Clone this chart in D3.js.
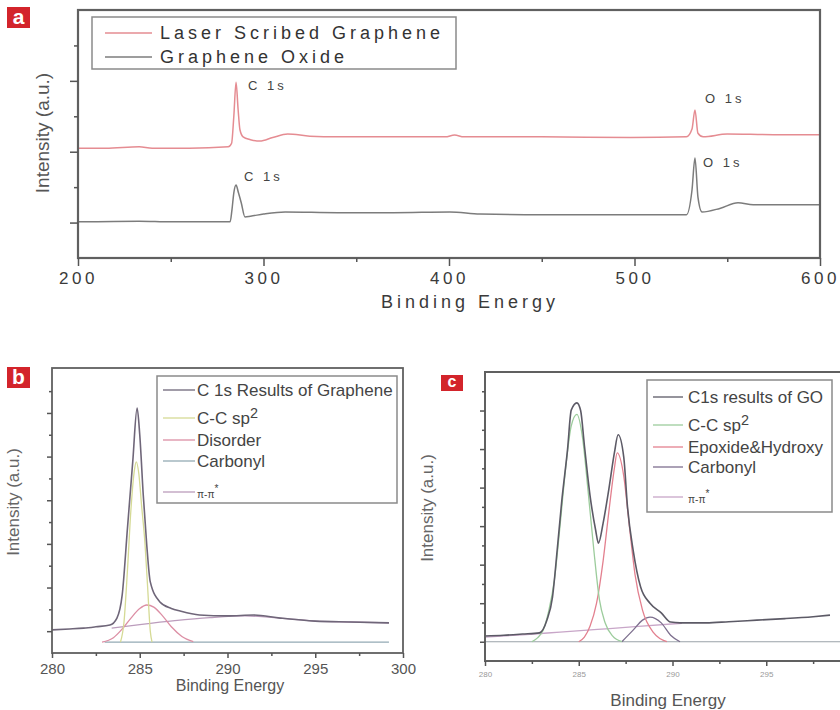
<!DOCTYPE html>
<html>
<head>
<meta charset="utf-8">
<script src="https://cdn.jsdelivr.net/npm/d3@7"></script>
<style>
  body { margin: 0; background: #fff; }
  svg { display: block; font-family: "Liberation Sans", Arial, sans-serif; }
</style>
</head>
<body>
<div id="chart"></div>
<script>
// ---- panel a: survey spectra (binding energy, intensity a.u.)
const lsgSurvey = [[200,2.05],[215,2.05],[233,2.07],[240,2.05],[260,2.05],[281,2.07],[282.8,2.12],[284,2.5],[285.2,2.98],[286.3,2.6],[287.3,2.31],[289,2.21],[293,2.17],[298,2.15],[305,2.2],[313,2.25],[325,2.22],[340,2.21],[370,2.21],[398,2.21],[403,2.235],[408,2.21],[450,2.21],[498,2.2],[528,2.21],[531,2.32],[532.6,2.59],[534.2,2.26],[537,2.21],[550,2.25],[575,2.24],[600,2.24]];
const goSurvey = [[200,1.01],[233,1.02],[250,1.01],[282,1.01],[283,1.18],[284,1.42],[285.2,1.53],[286.5,1.42],[288,1.28],[290,1.08],[293,1.09],[300,1.12],[311.7,1.15],[340,1.14],[370,1.14],[400.5,1.15],[416.7,1.12],[450,1.11],[498,1.11],[528,1.11],[531,1.46],[532.6,1.91],[534.2,1.36],[536.4,1.15],[546,1.2],[555.8,1.28],[564,1.25],[600,1.25]];
const legendA = ["Laser Scribed Graphene", "Graphene Oxide"];
const peakLabelsA = [["C 1s",291.6,2.87],["C 1s",289.5,1.59],["O 1s",538,2.69],["O 1s",536.9,1.78]];
const xTicksA = [200,300,400,500,600];
const xMinorA = [250,350,450,550];
const yTicksA = [1,2,3];
const yMinorA = [1.5,2.5,3.5];

// ---- panel b: C 1s fit of laser scribed graphene
const grTotal = [[280,1.03],[281,1.05],[281.8,1.07],[282.5,1.1],[283.3,1.14],[283.7,1.3],[284.0,1.83],[284.3,3.36],[284.6,4.88],[284.85,6.11],[285.0,5.5],[285.2,4.12],[285.4,2.97],[285.6,2.13],[286.15,1.67],[286.8,1.52],[287.3,1.46],[288.4,1.37],[290,1.35],[291.5,1.37],[293,1.3],[295,1.23],[297,1.21],[299.2,1.19]];
const grSp2 = [[283.9,0.75],[284.1,1.2],[284.3,2.4],[284.5,3.8],[284.7,4.7],[284.8,4.88],[284.95,4.6],[285.1,3.9],[285.3,3.0],[285.45,2.0],[285.6,1.0],[285.7,0.75]];
const grDisorder = [[282.85,0.75],[283.5,0.85],[284,1.05],[284.5,1.3],[285,1.52],[285.4,1.6],[285.8,1.55],[286.3,1.35],[286.8,1.1],[287.4,0.88],[288.05,0.76]];
const grCarbonyl = [[283,0.75],[299.2,0.75]];
const grPi = [[283.4,1.07],[285,1.15],[287,1.24],[289,1.31],[291,1.35],[293,1.3],[295,1.23],[297,1.21],[299.2,1.19]];
const legendB = ["C 1s Results of Graphene", "C-C sp2", "Disorder", "Carbonyl", "π-π*"];
const xTicksB = [280,285,290,295,300];
const xMinorB = [282.5,287.5,292.5,297.5];
const yTicksB = [1,2,3,4,5,6];
const yMinorB = [1.5,2.5,3.5,4.5,5.5,6.5];

// ---- panel c: C 1s fit of graphene oxide
const goTotal = [[280,0.15],[281,0.17],[282,0.2],[282.9,0.23],[283.3,0.56],[283.6,1.16],[283.85,2.38],[284.1,3.68],[284.4,4.98],[284.6,6.01],[284.9,6.2],[285.1,6.0],[285.3,5.1],[285.6,3.8],[285.9,2.9],[286.05,2.56],[286.3,3.08],[286.6,3.94],[286.9,4.9],[287.1,5.37],[287.4,4.79],[287.6,3.5],[287.9,2.38],[288.3,1.42],[288.8,1.0],[289.4,0.75],[289.9,0.51],[290.4,0.49],[291.8,0.49],[293,0.52],[294.5,0.56],[296,0.6],[297.5,0.65],[298.4,0.69]];
const goSp2 = [[282.5,0],[282.8,0.1],[283.1,0.3],[283.4,0.8],[283.7,1.6],[284.0,3.0],[284.3,4.5],[284.6,5.6],[284.9,5.9],[285.2,5.3],[285.5,3.9],[285.8,2.4],[286.1,1.1],[286.4,0.5],[286.8,0.15],[287.3,0]];
const goEpoxide = [[285.0,0],[285.3,0.12],[285.6,0.4],[285.95,1.0],[286.3,2.1],[286.6,3.35],[286.9,4.5],[287.05,4.9],[287.4,4.3],[287.7,3.0],[288.0,1.75],[288.4,0.82],[289.0,0.23],[289.7,0]];
const goCarbonyl = [[287.3,0],[287.9,0.3],[288.4,0.56],[288.8,0.64],[289.4,0.49],[289.9,0.17],[290.4,0]];
const goPi = [[280,0.12],[282,0.18],[284,0.25],[286,0.32],[288,0.39],[290.5,0.48]];
const goBase = [[280,0],[300,0]];
const legendC = ["C1s results of GO", "C-C sp2", "Epoxide&Hydroxy", "Carbonyl", "π-π*"];
const xTicksC = [280,285,290,295];
const xMinorC = [282.5,287.5,292.5,297.5];
const yTicksC = [0,1,2,3,4,5,6];
const yMinorC = [0.5,1.5,2.5,3.5,4.5,5.5,6.5];

const svg = d3.select("#chart").append("svg")
  .attr("width", 840).attr("height", 710);
svg.append("rect").attr("width", 840).attr("height", 710).attr("fill", "#fff");

const line = (x, y) => d3.line().x(d => x(d[0])).y(d => y(d[1])).curve(d3.curveMonotoneX);

function frame(x0, y0, x1, y1, w) {
  svg.append("rect").attr("x", x0).attr("y", y0)
    .attr("width", x1 - x0).attr("height", y1 - y0)
    .attr("fill", "none").attr("stroke", "#606060").attr("stroke-width", w);
}

function axes(x, y, bottom, left, xt, xm, yt, ym, big, small, labelSize, labelColor, ls, labelY) {
  const gx = svg.append("g").attr("transform", "translate(0," + bottom + ")")
    .call(d3.axisBottom(x).tickValues(xt).tickSize(big).tickSizeOuter(0).tickFormat(d3.format("d")));
  gx.select(".domain").remove();
  gx.selectAll("line").attr("stroke", "#555").attr("stroke-width", 1.5);
  gx.selectAll("text").attr("font-size", labelSize).attr("fill", labelColor)
    .attr("letter-spacing", ls).attr("dy", null).attr("y", labelY);
  const gxm = svg.append("g").attr("transform", "translate(0," + bottom + ")")
    .call(d3.axisBottom(x).tickValues(xm).tickSize(small).tickFormat(""));
  gxm.select(".domain").remove();
  gxm.selectAll("line").attr("stroke", "#555").attr("stroke-width", 1.5);

  const gy = svg.append("g").attr("transform", "translate(" + left + ",0)")
    .call(d3.axisLeft(y).tickValues(yt).tickSize(big).tickFormat(""));
  gy.select(".domain").remove();
  gy.selectAll("line").attr("stroke", "#555").attr("stroke-width", 1.5);
  const gym = svg.append("g").attr("transform", "translate(" + left + ",0)")
    .call(d3.axisLeft(y).tickValues(ym).tickSize(small).tickFormat(""));
  gym.select(".domain").remove();
  gym.selectAll("line").attr("stroke", "#555").attr("stroke-width", 1.5);
}

function tag(x0, y0, w, h, letter) {
  svg.append("rect").attr("x", x0).attr("y", y0).attr("width", w).attr("height", h).attr("fill", "#d3242b");
  svg.append("text").attr("x", x0 + w / 2).attr("y", y0 + h - 4)
    .attr("text-anchor", "middle").attr("fill", "#fff")
    .attr("font-size", h).attr("font-weight", "bold").text(letter);
}

function label(t, sel) {
  // superscripts for sp2 and pi-pi*
  if (t.endsWith("sp2")) {
    sel.append("tspan").text(t.slice(0, -1));
    sel.append("tspan").attr("dy", "-0.45em").attr("font-size", "0.85em").text("2");
  } else if (t.endsWith("*")) {
    sel.append("tspan").attr("font-size", "0.6em").text(t.slice(0, -1));
    sel.append("tspan").attr("dy", "-0.6em").attr("font-size", "0.6em").text("*");
  } else sel.text(t);
}

function legend(box, items, lx0, lx1, tx, rows, size, ls, color) {
  svg.append("rect").attr("x", box[0]).attr("y", box[1])
    .attr("width", box[2] - box[0]).attr("height", box[3] - box[1])
    .attr("fill", "#fff").attr("stroke", "#8a8a8a").attr("stroke-width", 1.5);
  items.forEach((it, i) => {
    svg.append("line").attr("x1", lx0).attr("x2", lx1).attr("y1", rows[i]).attr("y2", rows[i])
      .attr("stroke", it[1]).attr("stroke-width", 1.3);
    const t = svg.append("text").attr("x", tx).attr("y", rows[i] + size * 0.36)
      .attr("font-size", size).attr("fill", color).attr("letter-spacing", ls);
    label(it[0], t);
  });
}

// ================= panel a
const xA = d3.scaleLinear().domain([200, 600]).range([78, 820]);
const yA = d3.scaleLinear().domain([0.5, 4.0]).range([258, 10]);
const colLSG = "#e58c92", colGO = "#7c7c7c";
svg.append("path").datum(lsgSurvey).attr("d", line(xA, yA)).attr("fill", "none").attr("stroke", colLSG).attr("stroke-width", 1.5);
svg.append("path").datum(goSurvey).attr("d", line(xA, yA)).attr("fill", "none").attr("stroke", colGO).attr("stroke-width", 1.5);
frame(78, 10, 820, 258, 2.2);
axes(xA, yA, 258, 78, xTicksA, xMinorA, yTicksA, yMinorA, 8, 4, 17, "#3a3a3a", 3.5, 26);
peakLabelsA.forEach(p => {
  svg.append("text").attr("x", xA(p[1])).attr("y", yA(p[2]))
    .attr("font-size", 13).attr("fill", "#444").attr("letter-spacing", 3).text(p[0]);
});
legend([92, 17, 456, 69], [[legendA[0], colLSG], [legendA[1], colGO]], 105, 152, 160, [33, 57], 18, 4, "#333");
svg.append("text").attr("x", 470).attr("y", 308).attr("text-anchor", "middle")
  .attr("font-size", 18).attr("fill", "#3a3a3a").attr("letter-spacing", 4).text("Binding Energy");
svg.append("text").attr("transform", "translate(49,133) rotate(-90)").attr("text-anchor", "middle")
  .attr("font-size", 19).attr("fill", "#555").text("Intensity (a.u.)");
tag(7, 7, 23, 21, "a");

// ================= panel b
const xB = d3.scaleLinear().domain([280, 300]).range([52, 403]);
const yB = d3.scaleLinear().domain([0.5, 7.03]).range([653, 368]);
const colsB = ["#6f6679", "#d5da95", "#dc8ea4", "#93aab4", "#bb9cbc"];
[grCarbonyl, grPi, grDisorder, grSp2].forEach((s, i) => {
  svg.append("path").datum(s).attr("d", line(xB, yB)).attr("fill", "none")
    .attr("stroke", [colsB[3], colsB[4], colsB[2], colsB[1]][i]).attr("stroke-width", 1.3);
});
svg.append("path").datum(grTotal).attr("d", line(xB, yB)).attr("fill", "none").attr("stroke", colsB[0]).attr("stroke-width", 1.6);
frame(52, 368, 403, 653, 1.8);
axes(xB, yB, 653, 52, xTicksB, xMinorB, yTicksB, yMinorB, 5, 3, 15, "#555", 0, 21);
legend([157, 376, 397, 503], legendB.map((t, i) => [t, colsB[i]]), 163, 195, 197, [390, 418, 440, 461, 492], 17, 0, "#444");
svg.append("text").attr("x", 230).attr("y", 691).attr("text-anchor", "middle")
  .attr("font-size", 16).attr("fill", "#555").text("Binding Energy");
svg.append("text").attr("transform", "translate(19,502) rotate(-90)").attr("text-anchor", "middle")
  .attr("font-size", 17).attr("fill", "#666").text("Intensity (a.u.)");
tag(7, 367, 23, 21, "b");

// ================= panel c
const xC = d3.scaleLinear().domain([280, 300]).range([485, 860]);
const yC = d3.scaleLinear().domain([-0.5, 7.0]).range([661, 372]);
const colsC = ["#5c5a66", "#9ccc9c", "#e3808f", "#7d6f8e", "#c8a6c8"];
svg.append("path").datum(goBase).attr("d", line(xC, yC)).attr("fill", "none").attr("stroke", "#9aa2a8").attr("stroke-width", 1.2);
[goPi, goCarbonyl, goEpoxide, goSp2].forEach((s, i) => {
  svg.append("path").datum(s).attr("d", line(xC, yC)).attr("fill", "none")
    .attr("stroke", [colsC[4], colsC[3], colsC[2], colsC[1]][i]).attr("stroke-width", 1.3);
});
svg.append("path").datum(goTotal).attr("d", line(xC, yC)).attr("fill", "none").attr("stroke", colsC[0]).attr("stroke-width", 1.6);
frame(485, 372, 860, 661, 2);
axes(xC, yC, 661, 485, xTicksC, xMinorC, yTicksC, yMinorC, 5, 3, 8, "#999", 0, 16);
legend([647, 380, 832, 512], legendC.map((t, i) => [t, colsC[i]]), 653, 683, 688, [397, 425, 447, 467, 497], 17, 0, "#444");
svg.append("text").attr("x", 668).attr("y", 706).attr("text-anchor", "middle")
  .attr("font-size", 17).attr("fill", "#555").text("Binding Energy");
svg.append("text").attr("transform", "translate(433,508) rotate(-90)").attr("text-anchor", "middle")
  .attr("font-size", 17).attr("fill", "#666").text("Intensity (a.u.)");
tag(441, 375, 22, 16, "c");
</script>
</body>
</html>
